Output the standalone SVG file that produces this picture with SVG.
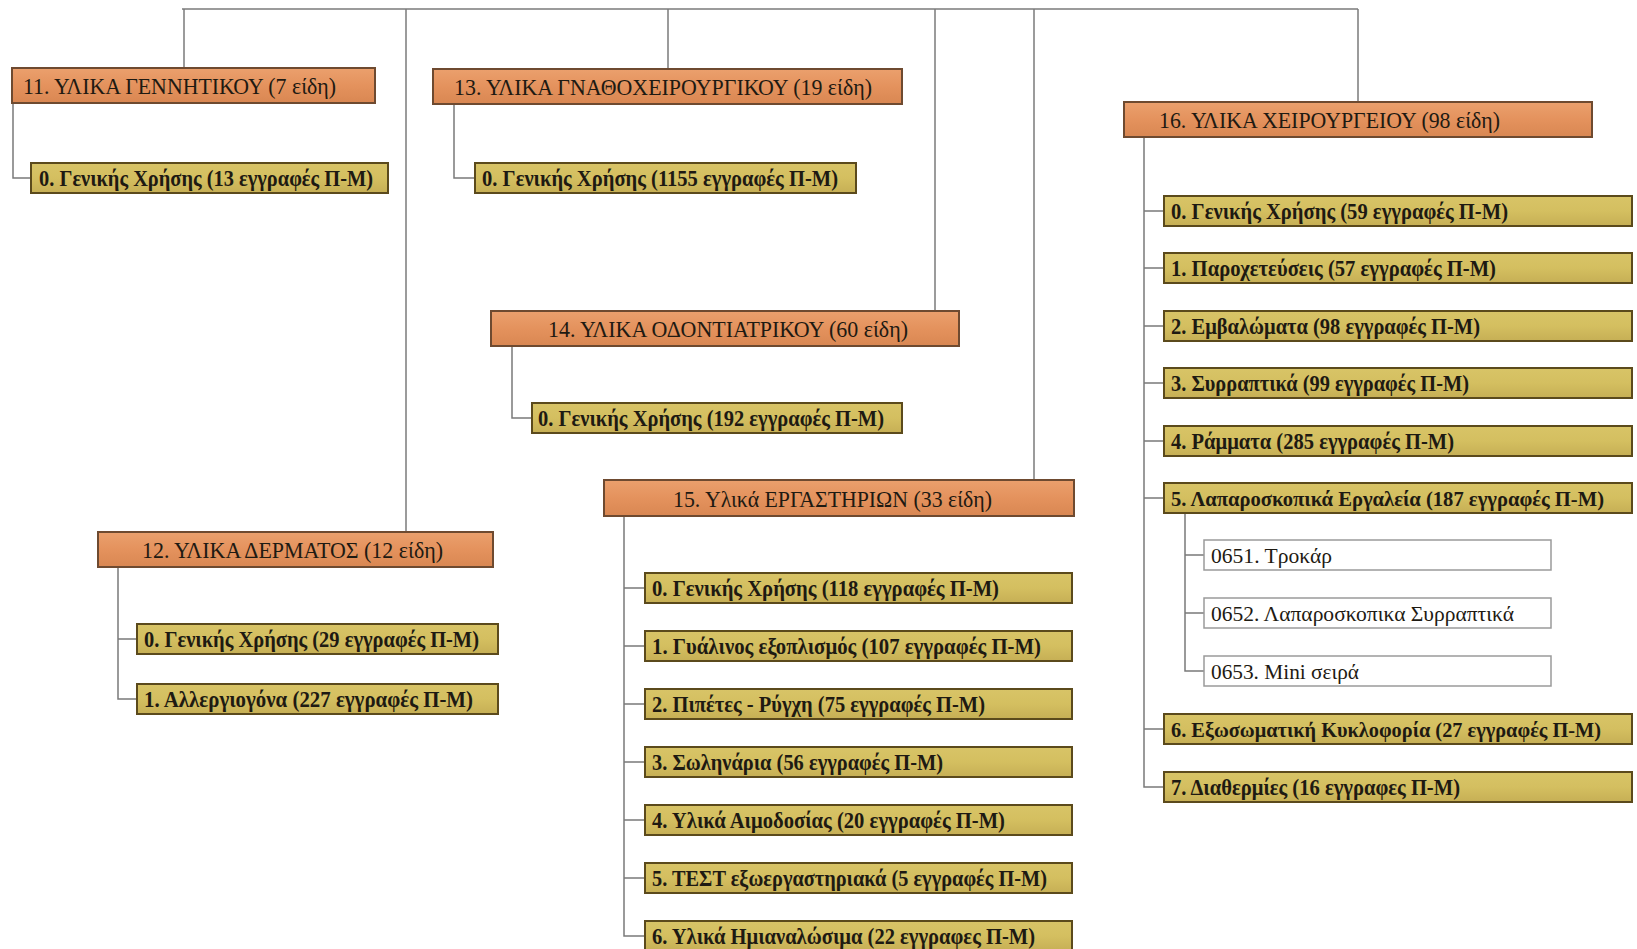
<svg xmlns="http://www.w3.org/2000/svg" width="1637" height="949" viewBox="0 0 1637 949">
<defs>
<linearGradient id="gh" x1="0" y1="0" x2="0" y2="1">
<stop offset="0" stop-color="#EBA06D"/><stop offset="0.5" stop-color="#E4925D"/><stop offset="1" stop-color="#D98752"/>
</linearGradient>
<linearGradient id="gc" x1="0" y1="0" x2="0" y2="1">
<stop offset="0" stop-color="#D8C467"/><stop offset="0.5" stop-color="#D4BF60"/><stop offset="1" stop-color="#C6AF55"/>
</linearGradient>
<style>
.h rect{fill:url(#gh);stroke:#6E4A30;stroke-width:2}
.c rect{fill:url(#gc);stroke:#5B4A1C;stroke-width:2}
.s rect{fill:#FFFFFF;stroke:#9A9A9A;stroke-width:1.5}
text{font-family:"Liberation Serif","Times New Roman",serif;font-size:24px;fill:#1E1A12}
.c text{font-weight:bold;font-size:23px}
.c text.n{font-size:21px}
.s text{font-size:22px}
#connectors path{fill:none;stroke:#7A7A7A;stroke-width:1.5}
</style>
</defs>
<rect width="1637" height="949" fill="#FFFFFF"/>
<g id="connectors">
<path d="M182,9 H1358"/>
<path d="M184,9 V68"/>
<path d="M406,9 V532"/>
<path d="M668,9 V69"/>
<path d="M935,9 V311"/>
<path d="M1034,9 V480"/>
<path d="M1358,9 V102"/>
<path d="M13,103 V178 H31"/>
<path d="M454,104 V178 H475"/>
<path d="M512,346 V418 H532"/>
<path d="M118,567 V699 H137 M118,639 H137"/>
<path d="M624,516 V936 H645 M624,588 H645 M624,646 H645 M624,704 H645 M624,762 H645 M624,820 H645 M624,878 H645"/>
<path d="M1144,137 V787 H1164 M1144,211 H1164 M1144,268 H1164 M1144,326 H1164 M1144,383 H1164 M1144,441 H1164 M1144,498 H1164 M1144,729 H1164"/>
<path d="M1185,513 V671 H1204 M1185,555 H1204 M1185,613 H1204"/>
</g>
<g id="n11" class="h"><rect x="12" y="68" width="363" height="35"/><text x="23" y="94" textLength="313" lengthAdjust="spacingAndGlyphs">11. ΥΛΙΚΑ ΓΕΝΝΗΤΙΚΟΥ (7 είδη)</text></g>
<g id="n11-0" class="c"><rect x="31" y="163" width="357" height="30"/><text x="39" y="186" textLength="334" lengthAdjust="spacingAndGlyphs">0. Γενικής Χρήσης (13 εγγραφές Π-Μ)</text></g>
<g id="n13" class="h"><rect x="433" y="69" width="469" height="35"/><text x="454" y="95" textLength="418" lengthAdjust="spacingAndGlyphs">13. ΥΛΙΚΑ ΓΝΑΘΟΧΕΙΡΟΥΡΓΙΚΟΥ (19 είδη)</text></g>
<g id="n13-0" class="c"><rect x="475" y="163" width="381" height="30"/><text x="482" y="186" textLength="356" lengthAdjust="spacingAndGlyphs">0. Γενικής Χρήσης (1155 εγγραφές Π-Μ)</text></g>
<g id="n14" class="h"><rect x="491" y="311" width="468" height="35"/><text x="548" y="337" textLength="360" lengthAdjust="spacingAndGlyphs">14. ΥΛΙΚΑ ΟΔΟΝΤΙΑΤΡΙΚΟΥ (60 είδη)</text></g>
<g id="n14-0" class="c"><rect x="532" y="403" width="370" height="30"/><text x="538" y="426" textLength="346" lengthAdjust="spacingAndGlyphs">0. Γενικής Χρήσης (192 εγγραφές Π-Μ)</text></g>
<g id="n12" class="h"><rect x="98" y="532" width="395" height="35"/><text x="142" y="558" textLength="301" lengthAdjust="spacingAndGlyphs">12. ΥΛΙΚΑ ΔΕΡΜΑΤΟΣ (12 είδη)</text></g>
<g id="n12-0" class="c"><rect x="137" y="624" width="361" height="30"/><text x="144" y="647" textLength="335" lengthAdjust="spacingAndGlyphs">0. Γενικής Χρήσης (29 εγγραφές Π-Μ)</text></g>
<g id="n12-1" class="c"><rect x="137" y="684" width="361" height="30"/><text x="144" y="707" textLength="329" lengthAdjust="spacingAndGlyphs">1. Αλλεργιογόνα (227 εγγραφές Π-Μ)</text></g>
<g id="n15" class="h"><rect x="604" y="480" width="470" height="36"/><text x="673" y="507" textLength="319" lengthAdjust="spacingAndGlyphs">15. Υλικά ΕΡΓΑΣΤΗΡΙΩΝ (33 είδη)</text></g>
<g id="n15-0" class="c"><rect x="645" y="573" width="427" height="30"/><text x="652" y="596" textLength="347" lengthAdjust="spacingAndGlyphs">0. Γενικής Χρήσης (118 εγγραφές Π-Μ)</text></g>
<g id="n15-1" class="c"><rect x="645" y="631" width="427" height="30"/><text x="652" y="654" textLength="389" lengthAdjust="spacingAndGlyphs">1. Γυάλινος εξοπλισμός (107 εγγραφές Π-Μ)</text></g>
<g id="n15-2" class="c"><rect x="645" y="689" width="427" height="30"/><text x="652" y="712" textLength="333" lengthAdjust="spacingAndGlyphs">2. Πιπέτες - Ρύγχη (75 εγγραφές Π-Μ)</text></g>
<g id="n15-3" class="c"><rect x="645" y="747" width="427" height="30"/><text x="652" y="770" textLength="291" lengthAdjust="spacingAndGlyphs">3. Σωληνάρια (56 εγγραφές Π-Μ)</text></g>
<g id="n15-4" class="c"><rect x="645" y="805" width="427" height="30"/><text x="652" y="828" textLength="353" lengthAdjust="spacingAndGlyphs">4. Υλικά Αιμοδοσίας (20 εγγραφές Π-Μ)</text></g>
<g id="n15-5" class="c"><rect x="645" y="863" width="427" height="30"/><text x="652" y="886" textLength="395" lengthAdjust="spacingAndGlyphs">5. ΤΕΣΤ εξωεργαστηριακά (5 εγγραφές Π-Μ)</text></g>
<g id="n15-6" class="c"><rect x="645" y="921" width="427" height="30"/><text x="652" y="944" textLength="383" lengthAdjust="spacingAndGlyphs">6. Υλικά Ημιαναλώσιμα (22 εγγραφες Π-Μ)</text></g>
<g id="n16" class="h"><rect x="1124" y="102" width="468" height="35"/><text x="1159" y="128" textLength="341" lengthAdjust="spacingAndGlyphs">16. ΥΛΙΚΑ ΧΕΙΡΟΥΡΓΕΙΟΥ (98 είδη)</text></g>
<g id="n16-0" class="c"><rect x="1164" y="196" width="468" height="30"/><text x="1171" y="219" textLength="337" lengthAdjust="spacingAndGlyphs">0. Γενικής Χρήσης (59 εγγραφές Π-Μ)</text></g>
<g id="n16-1" class="c"><rect x="1164" y="253" width="468" height="30"/><text x="1171" y="276" textLength="325" lengthAdjust="spacingAndGlyphs">1. Παροχετεύσεις (57 εγγραφές Π-Μ)</text></g>
<g id="n16-2" class="c"><rect x="1164" y="311" width="468" height="30"/><text x="1171" y="334" textLength="309" lengthAdjust="spacingAndGlyphs">2. Εμβαλώματα (98 εγγραφές Π-Μ)</text></g>
<g id="n16-3" class="c"><rect x="1164" y="368" width="468" height="30"/><text x="1171" y="391" textLength="298" lengthAdjust="spacingAndGlyphs">3. Συρραπτικά (99 εγγραφές Π-Μ)</text></g>
<g id="n16-4" class="c"><rect x="1164" y="426" width="468" height="30"/><text x="1171" y="449" textLength="283" lengthAdjust="spacingAndGlyphs">4. Ράμματα (285 εγγραφές Π-Μ)</text></g>
<g id="n16-5" class="c"><rect x="1164" y="483" width="468" height="30"/><text class="n" x="1171" y="506" textLength="433" lengthAdjust="spacingAndGlyphs">5. Λαπαροσκοπικά Εργαλεία (187 εγγραφές Π-Μ)</text></g>
<g id="n0651" class="s"><rect x="1204" y="540" width="347" height="30"/><text x="1211" y="563" textLength="121" lengthAdjust="spacingAndGlyphs">0651. Τροκάρ</text></g>
<g id="n0652" class="s"><rect x="1204" y="598" width="347" height="30"/><text x="1211" y="621" textLength="303" lengthAdjust="spacingAndGlyphs">0652. Λαπαροσκοπικα Συρραπτικά</text></g>
<g id="n0653" class="s"><rect x="1204" y="656" width="347" height="30"/><text x="1211" y="679" textLength="148" lengthAdjust="spacingAndGlyphs">0653. Μini σειρά</text></g>
<g id="n16-6" class="c"><rect x="1164" y="714" width="468" height="30"/><text class="n" x="1171" y="737" textLength="430" lengthAdjust="spacingAndGlyphs">6. Εξωσωματική Κυκλοφορία (27 εγγραφές Π-Μ)</text></g>
<g id="n16-7" class="c"><rect x="1164" y="772" width="468" height="30"/><text x="1171" y="795" textLength="289" lengthAdjust="spacingAndGlyphs">7. Διαθερμίες (16 εγγραφες Π-Μ)</text></g>
</svg>
